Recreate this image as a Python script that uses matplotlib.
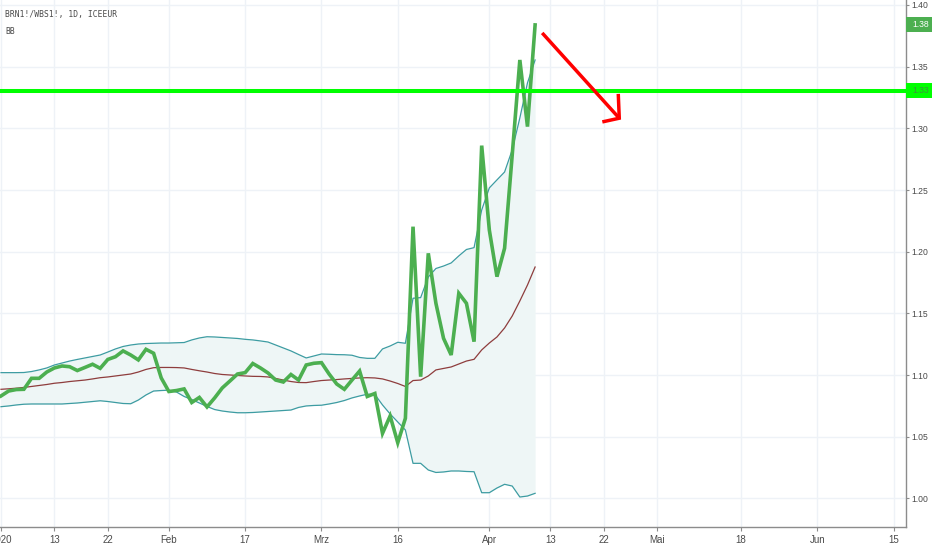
import matplotlib
matplotlib.use("Agg")
import matplotlib.pyplot as plt
import matplotlib.transforms as mtransforms
from matplotlib.patches import Rectangle

plt.rcParams['font.family'] = ['Liberation Sans', 'DejaVu Sans']

# ---- data (trading-day index from 2 Jan 2020) ----
close = [1.0831, 1.0871, 1.0883, 1.0885, 1.0974, 1.0974, 1.1025, 1.1058, 1.1074, 1.1068,
         1.1037, 1.1062, 1.1088, 1.1055, 1.1127, 1.1149, 1.1196, 1.1163, 1.1123, 1.1209,
         1.1177, 1.0977, 1.0867, 1.0875, 1.0888, 1.0778, 1.0819, 1.0742, 1.0815, 1.0896,
         1.0952, 1.1009, 1.1020, 1.1094, 1.1058, 1.1017, 1.0960, 1.0944, 1.1005, 1.0960,
         1.1082, 1.1096, 1.1101, 1.1009, 1.0928, 1.0885, 1.0960, 1.1033, 1.0827, 1.0851,
         1.0528, 1.0669, 1.0452, 1.0650, 1.2203, 1.0987, 1.1987, 1.1582, 1.1298, 1.1163,
         1.1663, 1.1582, 1.1271, 1.2860, 1.2176, 1.1798, 1.2028, 1.2784, 1.3554, 1.3014,
         1.3838]
upper = [1.1020, 1.1020, 1.1020, 1.1021, 1.1029, 1.1042, 1.1058, 1.1082, 1.1098, 1.1114,
         1.1127, 1.1139, 1.1151, 1.1163, 1.1187, 1.1212, 1.1232, 1.1244, 1.1252, 1.1256,
         1.1258, 1.1260, 1.1260, 1.1262, 1.1264, 1.1285, 1.1301, 1.1311, 1.1309, 1.1305,
         1.1301, 1.1297, 1.1290, 1.1285, 1.1277, 1.1268, 1.1244, 1.1220, 1.1196, 1.1167,
         1.1139, 1.1155, 1.1171, 1.1169, 1.1166, 1.1165, 1.1161, 1.1143, 1.1136, 1.1136,
         1.1212, 1.1236, 1.1266, 1.1258, 1.1623, 1.1628, 1.1795, 1.1864, 1.1884, 1.1909,
         1.1966, 1.2018, 1.2033, 1.2338, 1.2517, 1.2582, 1.2646, 1.2825, 1.3084, 1.3368,
         1.3554]
basis = [1.0885, 1.0889, 1.0894, 1.0900, 1.0908, 1.0916, 1.0924, 1.0934, 1.0940, 1.0948,
         1.0954, 1.0960, 1.0969, 1.0979, 1.0985, 1.0993, 1.1001, 1.1009, 1.1025, 1.1046,
         1.1060, 1.1062, 1.1062, 1.1061, 1.1058, 1.1046, 1.1035, 1.1025, 1.1013, 1.1005,
         1.1001, 1.0997, 1.0993, 1.0990, 1.0989, 1.0985, 1.0973, 1.0960, 1.0948, 1.0940,
         1.0939, 1.0948, 1.0956, 1.0960, 1.0964, 1.0969, 1.0973, 1.0977, 1.0979, 1.0977,
         1.0969, 1.0952, 1.0932, 1.0908, 1.0956, 1.0960, 1.0993, 1.1042, 1.1054, 1.1066,
         1.1090, 1.1114, 1.1128, 1.1204, 1.1260, 1.1309, 1.1382, 1.1479, 1.1601, 1.1730,
         1.1876]
lower = [1.0744, 1.0750, 1.0758, 1.0764, 1.0766, 1.0766, 1.0766, 1.0766, 1.0766, 1.0770,
         1.0774, 1.0780, 1.0786, 1.0792, 1.0786, 1.0778, 1.0770, 1.0768, 1.0798, 1.0839,
         1.0871, 1.0875, 1.0878, 1.0863, 1.0827, 1.0802, 1.0774, 1.0746, 1.0721, 1.0709,
         1.0701, 1.0695, 1.0695, 1.0697, 1.0701, 1.0705, 1.0709, 1.0713, 1.0717, 1.0738,
         1.0750, 1.0754, 1.0756, 1.0766, 1.0778, 1.0794, 1.0815, 1.0831, 1.0845, 1.0843,
         1.0758, 1.0685, 1.0620, 1.0555, 1.0285, 1.0285, 1.0231, 1.0211, 1.0215, 1.0223,
         1.0223, 1.0219, 1.0217, 1.0047, 1.0047, 1.0085, 1.0115, 1.0101, 1.0012, 1.0020,
         1.0042]

xtick_pos = [0, 7, 14, 22, 32, 42, 52, 64, 72, 79, 86, 97, 107, 117]
xtick_labels = ["2020", "13", "22", "Feb", "17", "Mrz", "16", "Apr", "13", "22",
                "Mai", "18", "Jun", "15"]
ytick_vals = [1.00, 1.05, 1.10, 1.15, 1.20, 1.25, 1.30, 1.35, 1.40]

hline_level = 1.3305
last_label = "1.38"
hline_label = "1.33"

arrow_x = [70.93, 81.03]
arrow_y = [1.3773, 1.3082]
head_x = [80.90, 81.03, 78.81]
head_y = [1.3279, 1.3082, 1.3052]

title_line1 = "BRN1!/WBS1!, 1D, ICEEUR"
title_line2 = "BB"

# ---- figure ----
fig = plt.figure(figsize=(9.32, 5.5), dpi=100)
ax = fig.add_axes([0.0, 23.0 / 550.0, 906.0 / 932.0, 527.0 / 550.0])
x = list(range(len(close)))

grid_c = '#eef2f7'
ax.set_xlim(-0.131, 118.61)
ax.set_ylim(0.9769, 1.4040)

for xp in xtick_pos:
    ax.axvline(xp, color=grid_c, lw=1.0, zorder=0)
for yv in ytick_vals:
    ax.axhline(yv, color=grid_c, lw=1.0, zorder=0)

ax.fill_between(x, lower, upper, color='#eef6f6', lw=0, zorder=1)
ax.plot(x, upper, color='#3d9ca2', lw=0.9, zorder=2)
ax.plot(x, lower, color='#3d9ca2', lw=0.9, zorder=2)
ax.plot(x, basis, color='#8e3d3d', lw=0.9, zorder=2)
ax.plot(x, close, color='#4caf50', lw=2.6, zorder=3, solid_joinstyle='miter')

ax.axhline(hline_level, color='#00ff00', lw=2.9, zorder=4)
ax.plot(arrow_x, arrow_y, color='#ff0000', lw=2.5, zorder=5, solid_capstyle='butt')
ax.plot(head_x, head_y, color='#ff0000', lw=2.5, zorder=5, solid_capstyle='butt',
        solid_joinstyle='miter')

# axes styling
for s in ['top', 'left']:
    ax.spines[s].set_visible(False)
for s in ['bottom', 'right']:
    ax.spines[s].set_color('#8c8c8c')
    ax.spines[s].set_linewidth(1.0)

ax.set_xticks(xtick_pos)
ax.set_xticklabels(xtick_labels)
ax.yaxis.tick_right()
ax.set_yticks(ytick_vals)
ax.set_yticklabels(["%.2f" % v for v in ytick_vals])
ax.tick_params(axis='x', direction='out', length=3, width=0.8, color='#8c8c8c',
               labelsize=7, labelcolor='#4a4a4a', pad=2.5)
ax.tick_params(axis='y', direction='out', length=2.2, width=0.8, color='#8c8c8c',
               labelsize=6.2, labelcolor='#4a4a4a', pad=1.6)

# price labels on the right axis
trans = mtransforms.blended_transform_factory(ax.transAxes, ax.transData)
box_h = 15.0 / 1233.75
box_w = 30.0 / 906.0
ax.add_patch(Rectangle((1.0, close[-1] - box_h / 2), box_w, box_h, transform=trans,
                       facecolor='#4caf50', edgecolor='none', clip_on=False, zorder=6))
ax.text(1.0 + 6.0 / 906.0, close[-1], last_label, transform=trans, color='white',
        fontsize=6.2, va='center', ha='left', clip_on=False, zorder=7)
ax.add_patch(Rectangle((1.0, hline_level - box_h / 2), box_w, box_h, transform=trans,
                       facecolor='#00ff00', edgecolor='none', clip_on=False, zorder=6))
ax.text(1.0 + 6.0 / 906.0, hline_level, hline_label, transform=trans, color='#3f8f42',
        fontsize=6.2, va='center', ha='left', clip_on=False, zorder=7)

# top-left legend text
fig.text(5.0 / 932.0, 1 - 15.0 / 550.0, title_line1, family='DejaVu Sans Mono',
         fontsize=5.8, color='#4a4a4a', va='center', ha='left')
fig.text(5.0 / 932.0, 1 - 31.0 / 550.0, title_line2, family='DejaVu Sans Mono',
         fontsize=5.8, color='#4a4a4a', va='center', ha='left')

fig.savefig('out.png', dpi=100, facecolor='white')
